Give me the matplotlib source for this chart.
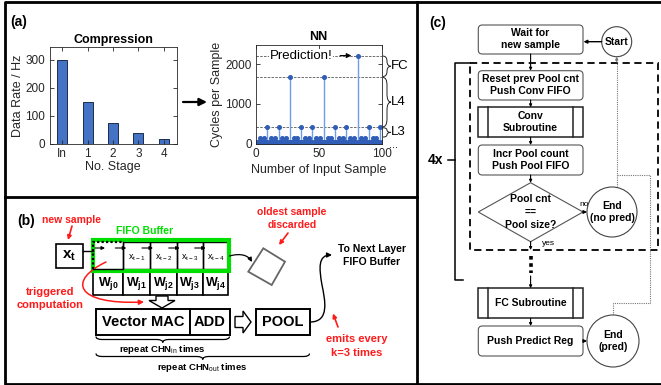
import matplotlib
matplotlib.use("Agg")
import matplotlib.pyplot as plt
import matplotlib.patches as mpatches
from matplotlib.path import Path

plt.rcParams['font.family'] = ['Liberation Sans', 'DejaVu Sans']
plt.rcParams['mathtext.fontset'] = 'custom'
plt.rcParams['mathtext.rm'] = 'Liberation Sans'
plt.rcParams['mathtext.bf'] = 'Liberation Sans:bold'
plt.rcParams['mathtext.it'] = 'Liberation Sans:italic'

W, H = 661, 385

# (a) left: data rate after each compression stage
stages = ['In', '1', '2', '3', '4']
data_rate = [300, 150, 75, 37.5, 18.75]

# (a) right: cycles spent on each input sample 1..100
sample_no = list(range(1, 101))
cycles = [30, 30, 150, 30, 30, 150, 30, 30, 410,
          30, 30, 150, 30, 30, 150, 30, 30, 410,
          30, 30, 150, 30, 30, 150, 30, 30, 1680,
          30, 30, 150, 30, 30, 150, 30, 30, 410,
          30, 30, 150, 30, 30, 150, 30, 30, 410,
          30, 30, 150, 30, 30, 150, 30, 30, 1680,
          30, 30, 150, 30, 30, 150, 30, 30, 410,
          30, 30, 150, 30, 30, 150, 30, 30, 410,
          30, 30, 150, 30, 30, 150, 30, 30, 2220,
          30, 30, 150, 30, 30, 150, 30, 30, 410,
          30, 30, 150, 30, 30, 150, 30, 30, 410,
          30]
level_lines = [2220, 1680, 410]
layer_spans = [(2220, 1680, 'FC'), (1680, 410, 'L4'), (410, 150, 'L3')]
pred_level = 2220

RED = '#ff1a1a'
GREEN = '#00e000'
BAR = '#4472c4'


def px(l, t, r, b):
    return [l / W, 1 - b / H, (r - l) / W, (b - t) / H]


def matlab_axes(ax):
    for s in ax.spines.values():
        s.set_linewidth(0.6)
        s.set_color('#262626')
    ax.tick_params(direction='in', top=True, right=True, length=3,
                   width=0.6, labelsize=8.5, colors='#262626', pad=3)


def brace(ax, pos, a0, a1, d, vertical=True, **kw):
    s = 1 if a1 > a0 else -1
    L = abs(a1 - a0)
    q = min(abs(d), L / 4)
    loc = [(0, 0), (d / 2, 0), (d / 2, q), (d / 2, L / 2 - q), (d / 2, L / 2),
           (d, L / 2), (d / 2, L / 2), (d / 2, L / 2 + q), (d / 2, L - q),
           (d / 2, L), (0, L)]
    codes = [Path.MOVETO, Path.CURVE3, Path.CURVE3, Path.LINETO, Path.CURVE3,
             Path.CURVE3, Path.CURVE3, Path.CURVE3, Path.LINETO, Path.CURVE3,
             Path.CURVE3]
    if vertical:
        pts = [(pos + lx, a0 + s * ly) for lx, ly in loc]
    else:
        pts = [(a0 + s * ly, pos + lx) for lx, ly in loc]
    ax.add_patch(mpatches.PathPatch(Path(pts, codes), fc='none', **kw))


fig = plt.figure(figsize=(W / 100, H / 100), dpi=100)
ov = fig.add_axes([0, 0, 1, 1])
ov.set_xlim(0, W)
ov.set_ylim(H, 0)
ov.axis('off')


def arrow(p0, p1, color='k', lw=0.8, ms=6, style='-|>'):
    ov.annotate('', xy=p1, xytext=p0,
                arrowprops=dict(arrowstyle=style, color=color, lw=lw,
                                mutation_scale=ms, shrinkA=0, shrinkB=0))


def curve_arrow(pts, color='k', lw=1.0, ms=7):
    codes = [Path.MOVETO] + [Path.CURVE4] * (len(pts) - 1)
    ov.add_patch(mpatches.FancyArrowPatch(path=Path(pts, codes), arrowstyle='-|>',
                                          color=color, lw=lw, mutation_scale=ms))


def txt(x, y, s, size=7.5, weight='bold', color='k', ha='center', **kw):
    ov.text(x, y, s, fontsize=size, fontweight=weight, color=color, ha=ha,
            va='center', linespacing=1.25, **kw)


# panel frames
ov.plot([660, 5, 5, 660], [1.5, 1.5, 383.5, 383.5], color='k', lw=2)
ov.plot([417, 417], [1.5, 383.5], color='k', lw=2)
ov.plot([5, 417], [196.5, 196.5], color='k', lw=2)

# ---------------- (a) ----------------
txt(19, 22, '(a)', size=10)

ax1 = fig.add_axes(px(49.5, 47, 176.5, 144))
ax1.bar(range(len(stages)), data_rate, width=0.4, color=BAR,
        edgecolor='#1c2c4c', lw=0.7)
ax1.set_xlim(-0.5, 4.5)
ax1.set_ylim(0, 345)
ax1.set_xticks(range(len(stages)))
ax1.set_xticklabels(stages)
ax1.set_yticks([0, 100, 200, 300])
matlab_axes(ax1)
ax1.set_title('Compression', fontsize=9, fontweight='bold', pad=3)
ax1.set_xlabel('No. Stage', fontsize=9, color='#262626')
ax1.set_ylabel('Data Rate / Hz', fontsize=9, color='#262626')
ax1.xaxis.set_label_coords(0.5, -0.18)
ax1.yaxis.set_label_coords(-0.2, 0.5)

arrow((183, 102), (207, 102), lw=1.6, ms=11)

ax2 = fig.add_axes(px(256, 44.5, 381.5, 143.5))
for lv in level_lines:
    ax2.axhline(lv, color='#555555', lw=0.6, ls=(0, (3, 1.5)), zorder=1)
ml, sl, bl = ax2.stem(sample_no, cycles, basefmt=' ')
plt.setp(sl, color='#6f9de6', lw=1.0)
plt.setp(ml, color='#2f5db8', markersize=2.6)
ax2.set_xlim(0, 100)
ax2.set_ylim(0, 2500)
ax2.set_xticks([0, 50, 100])
ax2.set_yticks([0, 1000, 2000])
matlab_axes(ax2)
ax2.set_title('NN', fontsize=9, fontweight='bold', pad=3)
ax2.set_xlabel('Number of Input Sample', fontsize=9, color='#262626')
ax2.set_ylabel('Cycles per Sample', fontsize=9, color='#262626')
ax2.xaxis.set_label_coords(0.5, -0.21)
ax2.yaxis.set_label_coords(-0.26, 0.5)
ax2.text(11, pred_level, 'Prediction!', fontsize=9.5, va='center', ha='left',
         bbox=dict(fc='white', ec='none', pad=0.3), zorder=3)
ax2.annotate('', xy=(76, pred_level), xytext=(67, pred_level),
             arrowprops=dict(arrowstyle='-|>', color='k', lw=0.8,
                             mutation_scale=7, shrinkA=0, shrinkB=0))


def ypx(v):
    return H - ax2.transData.transform((0, v))[1]


for top, bot, name in layer_spans:
    y0, y1 = ypx(top), ypx(bot)
    brace(ov, 383, y0 + 0.5, y1 - 0.5, 8, vertical=True, ec='#222', lw=0.7)
    txt(391, (y0 + y1) / 2, name, size=9.5, weight='normal', ha='left')
txt(394, ypx(0) + 1, '...', size=8, weight='normal', ha='center')

# ---------------- (b) ----------------
txt(26, 221, '(b)', size=10)
txt(72, 220, 'new sample', color=RED)
arrow((72, 226), (68, 240), color=RED, lw=1.2, ms=6)

ov.add_patch(mpatches.Rectangle((56, 244), 27, 24, fc='white', ec='k', lw=1.2))
txt(69.5, 256, r'$\mathbf{x_t}$', size=11)
ov.plot([83, 93], [251, 251], color='k', lw=1)

txt(145, 231, 'FIFO Buffer', color=GREEN)
cells = [93.3, 123.3, 150, 176.7, 202.7, 228.3]
cell_txt = ['', r'$\mathrm{x_{t-1}}$', r'$\mathrm{x_{t-2}}$',
            r'$\mathrm{x_{t-3}}$', r'$\mathrm{x_{t-4}}$']
w_txt = [r'$\mathbf{W_{j0}}$', r'$\mathbf{W_{j1}}$', r'$\mathbf{W_{j2}}$',
         r'$\mathbf{W_{j3}}$', r'$\mathbf{W_{j4}}$']
for i in range(5):
    x0, x1 = cells[i], cells[i + 1]
    if i == 0:
        ov.plot([x0, x0, x1], [268.5, 242, 242], color='k', lw=1.6, ls=(0, (1, 1)))
        ov.plot([x0, x1, x1], [268.5, 268.5, 242], color='k', lw=1)
    else:
        ov.add_patch(mpatches.Rectangle((x0, 242), x1 - x0, 26.5, fc='none',
                                        ec='k', lw=1))
        txt((x0 + x1) / 2, 258, cell_txt[i], size=6.5, weight='normal')
    ov.add_patch(mpatches.Rectangle((x0, 271), x1 - x0, 24, fc='white', ec='k',
                                    lw=1.2))
    txt((x0 + x1) / 2, 283, w_txt[i], size=9)
arrow((95, 248), (105, 248), lw=0.8, ms=5)
for b in cells[1:5]:
    arrow((b - 8, 248), (b + 3, 248), lw=0.8, ms=5)
ov.add_patch(mpatches.Rectangle((92.5, 239.5), 136.5, 31.5, fc='none',
                                ec=GREEN, lw=3))

txt(50, 292, 'triggered', color=RED, size=8)
txt(50, 305, 'computation', color=RED, size=8)
curve_arrow([(106, 262), (68, 280), (74, 305), (144, 302)], color=RED, lw=1.1)

ov.add_patch(mpatches.Polygon([(156, 296), (168, 296), (168, 300.5), (175, 300.5),
                               (162, 308), (149, 300.5), (156, 300.5)],
                              closed=True, fc='white', ec='k', lw=1))
ov.add_patch(mpatches.Rectangle((96, 308.5), 94, 26.5, fc='white', ec='k', lw=1.4))
ov.add_patch(mpatches.Rectangle((190, 308.5), 39.5, 26.5, fc='white', ec='k',
                                lw=1.4))
txt(143, 322, 'Vector MAC', size=10.5)
txt(209.7, 322, 'ADD', size=10.5)
ov.add_patch(mpatches.Polygon([(235, 316.5), (243, 316.5), (243, 311), (251, 322),
                               (243, 333), (243, 327.5), (235, 327.5)],
                              closed=True, fc='white', ec='k', lw=1))
ov.add_patch(mpatches.Rectangle((255.5, 308.5), 54, 26.5, fc='white', ec='k',
                                lw=1.4))
txt(282.5, 322, 'POOL', size=10.5)

brace(ov, 336.5, 96, 229.5, 6, vertical=False, ec='k', lw=0.9)
txt(162, 349.5, r'repeat CHN$_{\rm in}$ times', size=6.8)
brace(ov, 353.5, 96, 309.5, 6, vertical=False, ec='k', lw=0.9)
txt(202, 367.5, r'repeat CHN$_{\rm out}$ times', size=6.8)

txt(292, 212, 'oldest sample', color=RED)
txt(292, 225, 'discarded', color=RED)
arrow((288, 233), (279, 245), color=RED, lw=1.2, ms=6)
curve_arrow([(229.5, 256), (240, 253), (248, 255), (252, 262)], lw=0.9, ms=6)
ov.add_patch(mpatches.Polygon([(263.3, 248.3), (285, 261.7), (271.7, 285),
                               (248.3, 271.7)], closed=True, fc='none',
                              ec='#666666', lw=1.3))

txt(372, 248.5, 'To Next Layer', size=7.5)
txt(372, 262, 'FIFO Buffer', size=7.5)
ov.add_patch(mpatches.FancyArrowPatch(
    path=Path([(310, 322), (330, 322), (325, 300), (322, 285),
               (319, 268), (318, 255), (332, 255)],
              [Path.MOVETO] + [Path.CURVE4] * 6),
    arrowstyle='-|>', color='k', lw=1.0, mutation_scale=7))

txt(357, 339.5, 'emits every', color=RED, size=8)
txt(357, 352.5, 'k=3 times', color=RED, size=8)
arrow((338, 327), (333, 313.5), color=RED, lw=1.2, ms=6)

# ---------------- (c) ----------------
txt(438, 23, '(c)', size=10)
FX0, FX1, FXC = 478.3, 583, 530.6


def rbox(y0, y1, label):
    ov.add_patch(mpatches.FancyBboxPatch((FX0, y0), FX1 - FX0, y1 - y0,
                                         boxstyle='round,pad=0,rounding_size=4',
                                         fc='white', ec='#555555', lw=0.8))
    txt(FXC, (y0 + y1) / 2, label, size=7.5)


def subbox(y0, y1, label):
    ov.add_patch(mpatches.Rectangle((FX0, y0), FX1 - FX0, y1 - y0, fc='white',
                                    ec='#222', lw=1.1))
    for xx in (488.3, 572.7):
        ov.plot([xx, xx], [y0, y1], color='#222', lw=1.1)
    txt(FXC, (y0 + y1) / 2, label, size=7.5)


def circ(cx, cy, r, label):
    ov.add_patch(mpatches.Circle((cx, cy), r, fc='white', ec='#444', lw=0.8,
                                 zorder=3))
    txt(cx, cy, label, size=7.5, zorder=4)


# dashed loop box
ov.add_patch(mpatches.Rectangle((470, 62.7), 188, 187.3, fc='none', ec='k',
                                lw=1.3, ls=(0, (4, 2.5))))
# 4x bracket
ov.plot([470, 455, 455, 463], [62.7, 62.7, 280, 280], color='k', lw=1.1)
ov.plot([448, 455], [160, 160], color='k', lw=1.1)
txt(436, 160, '4x', size=10)

# dotted return paths
ov.plot([613, 613, 650, 650, 616.7], [315, 303, 303, 175, 175], color='#777',
        lw=0.8, ls=(0, (1, 1)))
ov.plot([616.7, 616.7], [187, 62], color='#777', lw=0.8, ls=(0, (1, 1)))
arrow((616.7, 62), (616.7, 56.7), color='#777', lw=0.8, ms=4)

rbox(25, 54, 'Wait for\nnew sample')
circ(616.7, 41.7, 15, 'Start')
arrow((601.7, 41.7), (583.5, 41.7), lw=1.0, ms=5)

rbox(70.7, 100, 'Reset prev Pool cnt\nPush Conv FIFO')
subbox(107.3, 137.3, 'Conv\nSubroutine')
rbox(145, 175, 'Incr Pool count\nPush Pool FIFO')
ov.add_patch(mpatches.Polygon([(FX0, 212), (FXC, 182.7), (FX1, 212),
                               (FXC, 241.7)], closed=True, fc='white',
                              ec='#555555', lw=0.8))
txt(FXC, 199.5, 'Pool cnt', size=7.5)
txt(FXC, 212, '==', size=7.5)
txt(FXC, 224.5, 'Pool size?', size=7.5)
circ(612, 212, 25, 'End\n(no pred)')
arrow((FX1, 212), (587, 212), lw=0.8, ms=5)
txt(584.5, 204.5, 'no', size=6, weight='normal')
txt(548, 243.5, 'yes', size=6, weight='normal')

for y0, y1 in [(54, 70.7), (100, 107.3), (137.3, 145), (175, 182.7),
               (241.7, 250), (276, 288.3), (318.3, 326)]:
    arrow((FXC, y0), (FXC, y1), lw=0.8, ms=4)
ov.plot([FXC, FXC], [256, 273], color='k', lw=2.6, ls=(0, (1, 1)))

subbox(288.3, 318.3, 'FC Subroutine')
rbox(326, 356, 'Push Predict Reg')
circ(613, 341, 26, 'End\n(pred)')
arrow((FX1, 341), (587, 341), lw=0.8, ms=5)

fig.savefig('out.png', dpi=100, facecolor='white')
